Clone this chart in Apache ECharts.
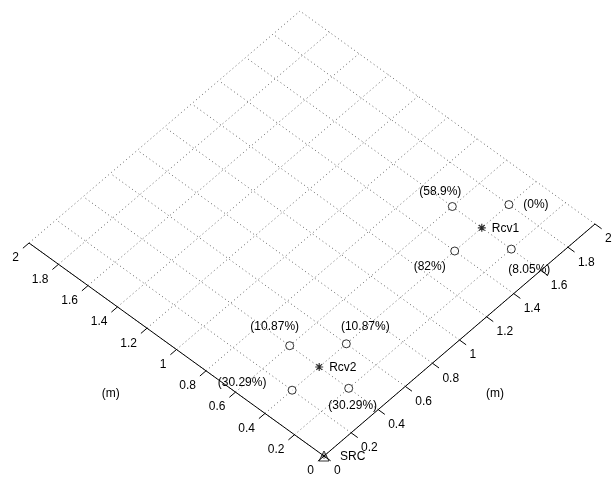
<!DOCTYPE html>
<html>
<head>
<meta charset="utf-8">
<script src="https://cdn.jsdelivr.net/npm/echarts@6/dist/echarts.min.js"></script>
<style>
  html, body { margin: 0; padding: 0; background: #fff; }
  #chart { width: 616px; height: 481px; }
</style>
</head>
<body>
<div id="chart"></div>
<script>
// room layout in metres (u along right axis, v along left axis)
const ticks = [0, 0.2, 0.4, 0.6, 0.8, 1, 1.2, 1.4, 1.6, 1.8, 2];
const tickLabels = ['0', '0.2', '0.4', '0.6', '0.8', '1', '1.2', '1.4', '1.6', '1.8', '2'];

const srcName = 'SRC';
const srcPos = [0, 0];

const rcvNames = ['Rcv1', 'Rcv2'];
const rcvPos = [[1.6, 0.4], [0.4, 0.4]];

const micPos = [[1.6, 0.6], [1.8, 0.4], [1.4, 0.4], [1.6, 0.2],
                [0.4, 0.6], [0.6, 0.4], [0.2, 0.4], [0.4, 0.2]];
const micPct = ['58.9%', '0%', '82%', '8.05%', '10.87%', '10.87%', '30.29%', '30.29%'];

// view / layout (pixels)
const O = [324, 456];            // screen position of (0,0)
const EU = [135.5, -116];        // one metre along u
const EV = [-147.5, -106.5];     // one metre along v
const micLabelOff = [[-12, -15], [27, 0], [-25, 16], [18, 21],
                     [-15, -19], [19, -17], [-50, -8], [4, 17]];
const FONT = '12px "Liberation Sans", Arial, Helvetica, sans-serif';

const proj = (u, v) => [O[0] + u * EU[0] + v * EV[0], O[1] + u * EU[1] + v * EV[1]];

// dotted grid + axis lines + tick marks, as segments
const gridSegs = [];
ticks.forEach(t => {
    gridSegs.push([...proj(t, 0), ...proj(t, 2)]);
    gridSegs.push([...proj(0, t), ...proj(2, t)]);
});
const axisSegs = [
    [...proj(0, 0), ...proj(2, 0)],
    [...proj(0, 0), ...proj(0, 2)]
];
ticks.forEach(t => {
    axisSegs.push([...proj(0, t), ...proj(-0.045, t)]);
    axisSegs.push([...proj(t, 0), ...proj(t, -0.045)]);
});

// all texts
const texts = [];
ticks.forEach((t, i) => {
    texts.push({ p: proj(0, t), text: tickLabels[i], dx: -10, dy: 15, align: 'right' });
    texts.push({ p: proj(t, 0), text: tickLabels[i], dx: 10, dy: 15, align: 'left' });
});
texts.push({ p: proj(-0.43, 1.05), text: '(m)', dx: 0, dy: 0, align: 'center' });
texts.push({ p: proj(0.87, -0.36), text: '(m)', dx: 0, dy: 0, align: 'center' });
texts.push({ p: proj(...srcPos), text: srcName, dx: 16, dy: 1, align: 'left' });
rcvPos.forEach((p, i) => {
    texts.push({ p: proj(...p), text: rcvNames[i], dx: 10, dy: 1, align: 'left' });
});
micPos.forEach((p, i) => {
    texts.push({ p: proj(...p), text: '(' + micPct[i] + ')',
                 dx: micLabelOff[i][0], dy: micLabelOff[i][1], align: 'center' });
});

const segSeries = (data, style) => ({
    type: 'custom',
    silent: true,
    data: data,
    renderItem: (params, api) => {
        const a = api.coord([api.value(0), api.value(1)]);
        const b = api.coord([api.value(2), api.value(3)]);
        return {
            type: 'line',
            shape: { x1: a[0], y1: a[1], x2: b[0], y2: b[1] },
            style: style
        };
    }
});

const asterisk = 'path://M5,0L5,10M0,5L10,5M1.5,1.5L8.5,8.5M1.5,8.5L8.5,1.5';

const chart = echarts.init(document.getElementById('chart'));
chart.setOption({
    animation: false,
    backgroundColor: '#fff',
    grid: { left: 0, right: 0, top: 0, bottom: 0 },
    xAxis: { type: 'value', min: 0, max: 616, show: false },
    yAxis: { type: 'value', min: 0, max: 481, inverse: true, show: false },
    series: [
        segSeries(gridSegs, { stroke: '#666', lineWidth: 1, lineDash: [1, 3], fill: null }),
        segSeries(axisSegs, { stroke: '#000', lineWidth: 1, fill: null }),
        {
            type: 'scatter',
            silent: true,
            symbol: 'circle',
            symbolSize: 8,
            itemStyle: { color: '#fff', borderColor: '#000', borderWidth: 1 },
            data: micPos.map(p => proj(...p))
        },
        {
            type: 'scatter',
            silent: true,
            symbol: asterisk,
            symbolSize: 8,
            itemStyle: { color: 'none', borderColor: '#000', borderWidth: 1.2 },
            data: rcvPos.map(p => proj(...p))
        },
        {
            type: 'scatter',
            silent: true,
            symbol: 'triangle',
            symbolSize: 10,
            itemStyle: { color: 'none', borderColor: '#000', borderWidth: 1 },
            data: [proj(...srcPos)]
        },
        {
            type: 'scatter',
            silent: true,
            symbol: asterisk,
            symbolSize: 6,
            itemStyle: { color: 'none', borderColor: '#000', borderWidth: 0.8 },
            data: [proj(...srcPos)]
        },
        {
            type: 'custom',
            silent: true,
            data: texts.map(t => t.p),
            renderItem: (params, api) => {
                const t = texts[params.dataIndex];
                const c = api.coord([api.value(0), api.value(1)]);
                return {
                    type: 'text',
                    x: c[0] + t.dx,
                    y: c[1] + t.dy,
                    style: {
                        text: t.text,
                        font: FONT,
                        fill: '#000',
                        align: t.align,
                        verticalAlign: 'middle'
                    }
                };
            }
        }
    ]
});
</script>
</body>
</html>
